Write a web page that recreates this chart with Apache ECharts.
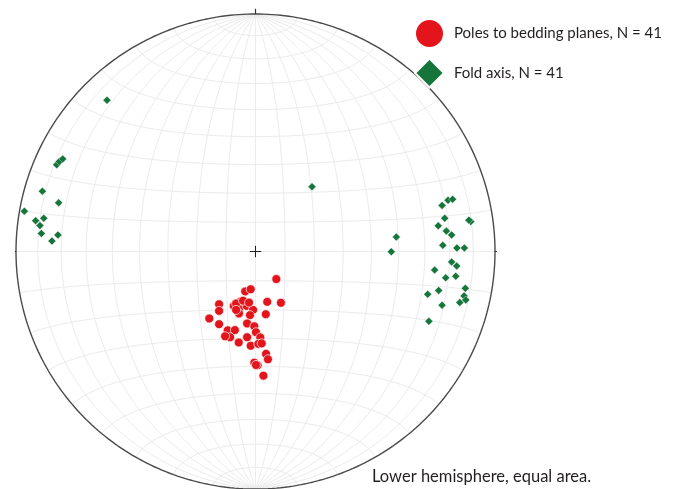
<!DOCTYPE html>
<html>
<head>
<meta charset="utf-8">
<script src="https://cdn.jsdelivr.net/npm/echarts@6/dist/echarts.min.js"></script>
<style>
html,body{margin:0;padding:0;background:#fff;}
#chart{width:674px;height:489px;}
</style>
</head>
<body>
<div id="chart"></div>
<script>
// Data: positions on a unit-radius equal-area (Schmidt) net, lower hemisphere.
// x = east, y = north.
const polesX = [0.087,-0.043,-0.020,-0.152,-0.152,-0.091,-0.065,-0.047,-0.068,-0.037,-0.010,0.049,0.106,-0.069,-0.023,0.043,-0.193,-0.152,-0.035,-0.116,-0.086,-0.005,0.002,-0.106,-0.035,0.020,-0.070,-0.020,0.012,0.026,0.044,0.052,-0.005,0.009,0.033,-0.127,-0.081,-0.052,0.002,-0.081,-0.027];
const polesY = [-0.116,-0.168,-0.159,-0.222,-0.250,-0.229,-0.212,-0.222,-0.239,-0.229,-0.246,-0.212,-0.216,-0.261,-0.268,-0.264,-0.282,-0.306,-0.303,-0.332,-0.331,-0.315,-0.340,-0.361,-0.361,-0.362,-0.383,-0.397,-0.389,-0.387,-0.431,-0.454,-0.468,-0.479,-0.523,-0.357,-0.219,-0.207,-0.478,-0.246,-0.215];
const foldX = [0.779,0.804,0.823,0.790,0.899,0.763,0.797,0.819,0.588,0.567,0.782,0.841,0.872,0.819,0.840,0.748,0.794,0.836,0.719,0.765,0.876,0.871,0.878,0.853,0.779,0.724,-0.830,-0.819,-0.805,-0.890,-0.822,-0.965,-0.918,-0.884,-0.900,-0.894,-0.825,-0.850,-0.620,0.236,0.891];
const foldY = [0.194,0.216,0.220,0.140,0.126,0.108,0.086,0.070,0.061,-0.001,0.026,0.015,0.015,-0.044,-0.061,-0.078,-0.111,-0.104,-0.180,-0.164,-0.155,-0.187,-0.204,-0.215,-0.226,-0.294,0.365,0.379,0.390,0.254,0.205,0.170,0.130,0.140,0.109,0.076,0.070,0.044,0.637,0.273,0.132];
const seriesNames = ['Poles to bedding planes, N = 41', 'Fold axis, N = 41'];
const noteText = 'Lower hemisphere, equal area.';
const netStepDeg = 10;

const R2D = Math.PI / 180;
// Lambert azimuthal equal-area projection of a point given by longitude/latitude on the net sphere
function proj(lonDeg, latDeg) {
  const lon = lonDeg * R2D, lat = latDeg * R2D;
  const x = Math.cos(lat) * Math.sin(lon);
  const y = Math.sin(lat);
  const z = Math.cos(lat) * Math.cos(lon);
  const k = 1 / Math.sqrt(1 + z);
  return [x * k, y * k];
}

const series = [];
const gridStyle = { color: '#ebebeb', width: 1 };
function addLine(data, style, z) {
  series.push({ type: 'line', data: data, showSymbol: false, symbol: 'none', silent: true,
    lineStyle: style, z: z, animation: false, clip: false });
}
// meridians (great circles)
for (let lon = -90 + netStepDeg; lon < 90; lon += netStepDeg) {
  const d = [];
  for (let lat = -90; lat <= 90; lat += 1) d.push(proj(lon, lat));
  addLine(d, gridStyle, 1);
}
// small circles (latitudes)
for (let lat = -90 + netStepDeg; lat < 90; lat += netStepDeg) {
  const d = [];
  for (let lon = -90; lon <= 90; lon += 1) d.push(proj(lon, lat));
  addLine(d, gridStyle, 1);
}
// primitive circle
const prim = [];
for (let a = 0; a <= 360; a += 1) prim.push([Math.cos(a * R2D), Math.sin(a * R2D)]);
addLine(prim, { color: '#4a4a4a', width: 1.4 }, 3);
// N/E/S/W ticks
const tk = 0.022;
addLine([[0, 1], [0, 1 + tk]], { color: '#333', width: 1.2 }, 3);
addLine([[0, -1], [0, -1 - tk]], { color: '#333', width: 1.2 }, 3);
addLine([[1, 0], [1 + tk, 0]], { color: '#333', width: 1.2 }, 3);
addLine([[-1, 0], [-1 - tk, 0]], { color: '#333', width: 1.2 }, 3);
// centre cross
const cc = 0.024;
addLine([[-cc, 0], [cc, 0]], { color: '#222', width: 1 }, 3);
addLine([[0, -cc], [0, cc]], { color: '#222', width: 1 }, 3);

series.push({
  name: seriesNames[0], type: 'scatter', symbol: 'circle', symbolSize: 9, z: 5,
  itemStyle: { color: '#e3141b', opacity: 1, borderColor: '#fff', borderWidth: 0.7 },
  data: polesX.map((v, i) => [v, polesY[i]])
});
series.push({
  name: seriesNames[1], type: 'scatter', symbol: 'diamond', symbolSize: 8, z: 5,
  itemStyle: { color: '#16753a', opacity: 1, borderColor: '#fff', borderWidth: 0.4 },
  data: foldX.map((v, i) => [v, foldY[i]])
});

const chart = echarts.init(document.getElementById('chart'), null, { renderer: 'canvas' });
chart.setOption({
  animation: false,
  backgroundColor: '#fff',
  grid: { left: 16, top: 14, width: 479, height: 479, containLabel: false },
  xAxis: { type: 'value', min: -1, max: 1, show: false },
  yAxis: { type: 'value', min: -1, max: 1, show: false },
  legend: {
    data: [{ name: seriesNames[0], icon: 'circle' }, { name: seriesNames[1], icon: 'diamond' }],
    orient: 'vertical', left: 409, top: 13, itemWidth: 29, itemHeight: 29, itemGap: 8.5,
    selectedMode: false,
    textStyle: { fontFamily: 'Lato', fontSize: 15, color: '#231f20', padding: [0, 0, 0, 5] }
  },
  title: {
    text: noteText, left: 367, top: 463,
    textStyle: { fontFamily: 'Lato', fontSize: 16.5, fontWeight: 'normal', color: '#231f20' }
  },
  series: series
});
</script>
</body>
</html>
